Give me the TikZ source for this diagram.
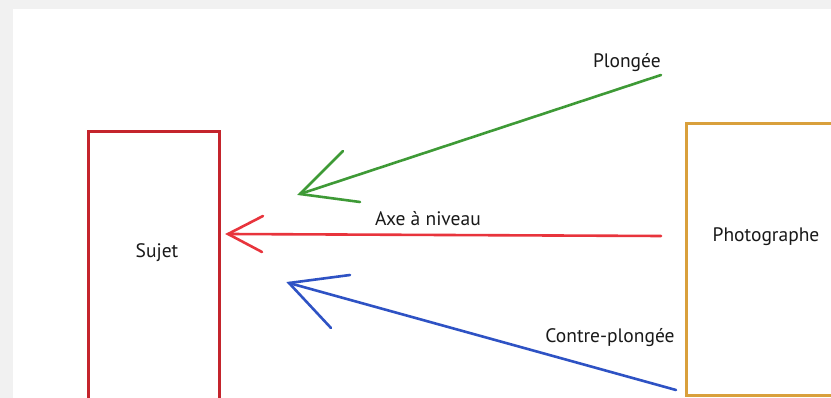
\documentclass[tikz,border=0pt]{standalone}
\usepackage{fontspec}
\setmainfont{PT Sans}
\definecolor{bggray}{HTML}{F1F1F1}
\definecolor{sujred}{HTML}{C4242C}
\definecolor{phorange}{HTML}{D9A03C}
\definecolor{agreen}{HTML}{3E9A36}
\definecolor{ared}{HTML}{E8343C}
\definecolor{ablue}{HTML}{2E52C4}
\tikzset{
  boxline/.style={line width=3pt},
  arr/.style={line width=2.6pt, line cap=round},
  lbl/.style={font=\fontsize{19.5}{22}\selectfont, text=black!90, inner sep=0pt},
}
\begin{document}
\begin{tikzpicture}[x=1pt,y=-1pt]
\useasboundingbox (0,0) rectangle (831,398);
\fill[bggray] (0,0) rectangle (831,398);
\fill[white] (13,9) rectangle (831,398);
% boxes
\draw[boxline, sujred] (88,405) -- (88,132) -- (219,132) -- (219,405);
\draw[boxline, phorange] (840,396) -- (686,396) -- (686,124) -- (840,124);
\node[lbl] (sujet) at (157,253) {Sujet};
\node[lbl] (photo) at (766,237) {Photographe};
% green arrow (Plongée)
\coordinate (gs) at (661,75);
\coordinate (gt) at (300,194);
\coordinate (g1) at (343,151);
\coordinate (g2) at (360,202);
\draw[arr, agreen] (gs) -- (gt);
\draw[arr, agreen] (g1) -- (gt) -- (g2);
\node[lbl, anchor=base east] (plong) at (661,68) {Plongée};
% red arrow (Axe à niveau)
\coordinate (rs) at (661,236);
\coordinate (rt) at (228,234);
\coordinate (r1) at (263,216);
\coordinate (r2) at (262,252);
\draw[arr, ared] (rs) -- (rt);
\draw[arr, ared] (r1) -- (rt) -- (r2);
\node[lbl] (axe) at (428,219) {Axe à niveau};
% blue arrow (Contre-plongée)
\coordinate (bs) at (676,390);
\coordinate (bt) at (289,283);
\coordinate (b1) at (350,275);
\coordinate (b2) at (331,328);
\draw[arr, ablue] (bs) -- (bt);
\draw[arr, ablue] (b1) -- (bt) -- (b2);
\node[lbl] (contre) at (610,338) {Contre-plongée};
\end{tikzpicture}
\end{document}
